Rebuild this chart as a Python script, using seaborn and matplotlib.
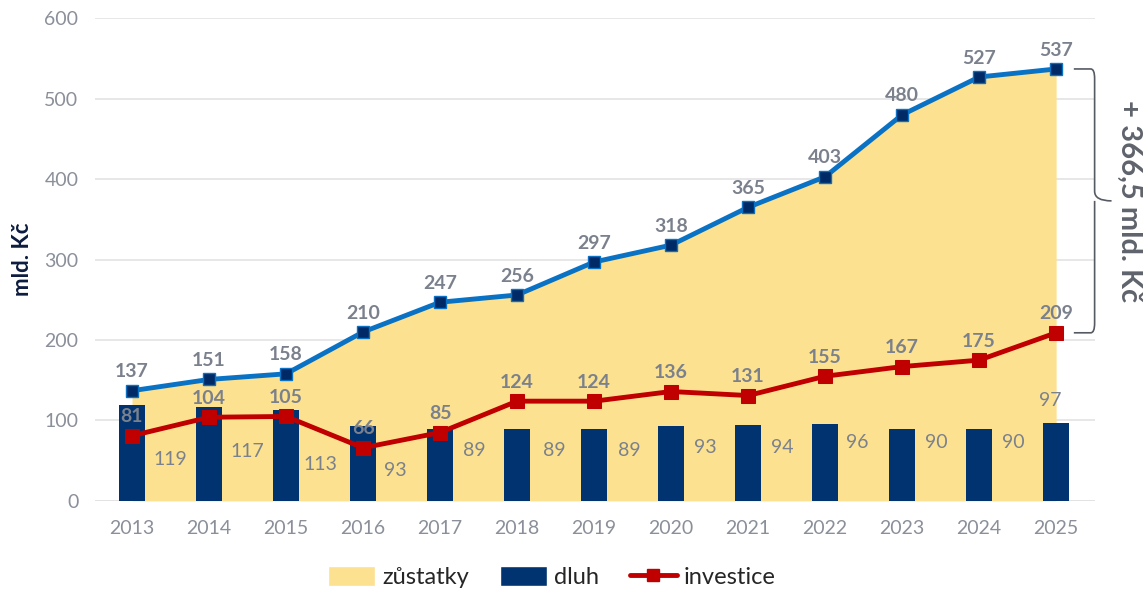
import numpy as np
import pandas as pd
import matplotlib.pyplot as plt
import seaborn as sns
from matplotlib.patches import Patch
from matplotlib.lines import Line2D
from matplotlib.path import Path
from matplotlib.patches import PathPatch

# Data
roky = ['2013', '2014', '2015', '2016', '2017', '2018', '2019',
        '2020', '2021', '2022', '2023', '2024', '2025']
zustatky = [137, 151, 158, 210, 247, 256, 297, 318, 365, 403, 480, 527, 537]
dluh = [119, 117, 113, 93, 89, 89, 89, 93, 94, 96, 90, 90, 97]
investice = [81, 104, 105, 66, 85, 124, 124, 136, 131, 155, 167, 175, 209]

# placement of the debt labels (x shift, y position)
dluh_lbl_dx = [0.5, 0.5, 0.45, 0.42, 0.45, 0.48, 0.46, 0.44, 0.44, 0.42, 0.44, 0.45, -0.08]
dluh_lbl_y = [51, 62, 45, 38, 63, 63, 63, 67, 67, 73, 73, 73, 125]

sns.set_theme(style="white")
plt.rcParams['font.family'] = ['Lato', 'DejaVu Sans']

seda = '#7b818c'
df = pd.DataFrame({'rok': roky, 'x': np.arange(len(roky)),
                   'zustatky': zustatky, 'dluh': dluh, 'investice': investice})

fig = plt.figure(figsize=(11.45, 5.9), dpi=100)
ax = fig.add_axes([0.083, 0.151, 0.873, 0.818])

ax.fill_between(df['x'], df['zustatky'], color='#fce190', lw=0, zorder=1)
sns.barplot(data=df, x='rok', y='dluh', color='#00336f', width=0.34,
            saturation=1, linewidth=0, ax=ax, zorder=2)
sns.lineplot(data=df, x='x', y='investice', color='#c00000', lw=3.5,
             marker='s', markersize=10, markeredgecolor='#c00000', ax=ax, zorder=3)
sns.lineplot(data=df, x='x', y='zustatky', color='#0a72c4', lw=3.5,
             marker='s', markersize=9, markerfacecolor='#002a66',
             markeredgecolor='#0a72c4', markeredgewidth=1, ax=ax, zorder=4)

for i, v in enumerate(zustatky):
    ax.text(i, v + 13, str(v), ha='center', va='bottom', fontsize=14,
            fontweight='bold', color=seda, zorder=5)
for i, v in enumerate(investice):
    ax.text(i, v + 13, str(v), ha='center', va='bottom', fontsize=14,
            fontweight='bold', color=seda, zorder=5)
for i, v in enumerate(dluh):
    ax.text(i + dluh_lbl_dx[i], dluh_lbl_y[i], str(v), ha='center', va='center',
            fontsize=14, color=seda, zorder=5)

ax.set_xlim(-0.48, 12.5)
ax.set_ylim(0, 600)
ax.set_yticks(range(0, 601, 100))
ax.yaxis.grid(True, color='#e3e3e3', lw=1.2)
ax.set_axisbelow(True)
sns.despine(ax=ax, left=True, bottom=True)
ax.axhline(0, color='#d9d9d9', lw=1.2, zorder=0)
ax.tick_params(axis='both', colors='#8a8f99', labelsize=14, length=0)
ax.tick_params(axis='x', pad=14)
ax.tick_params(axis='y', pad=12)
ax.set_xlabel('')
ax.set_ylabel('mld. Kč', fontsize=16, fontweight='bold', color='#0d1b3e', labelpad=8)

# bracket on the right
top, bot = 537, 209
mid = (top + bot) / 2
x0, x1, x2 = 12.23, 12.50, 12.72
verts = [(x0, top), (x1 - 0.05, top), (x1, top), (x1, top - 12),
         (x1, mid + 12), (x1, mid), (x2, mid),
         (x1, mid), (x1, mid - 12),
         (x1, bot + 12), (x1, bot), (x1 - 0.05, bot), (x0, bot)]
codes = [Path.MOVETO, Path.LINETO, Path.CURVE3, Path.CURVE3,
         Path.LINETO, Path.CURVE3, Path.CURVE3,
         Path.MOVETO, Path.CURVE3,
         Path.LINETO, Path.CURVE3, Path.CURVE3, Path.LINETO]
ax.add_patch(PathPatch(Path(verts, codes), fill=False, edgecolor='#555a63',
                       lw=1.2, clip_on=False, zorder=5))
ax.text(12.95, mid, '+ 366,5 mld. Kč', rotation=-90, ha='center', va='center',
        fontsize=21, fontweight='bold', color='#5f636b', clip_on=False)

handles = [Patch(facecolor='#fce190', label='zůstatky'),
           Patch(facecolor='#00336f', label='dluh'),
           Line2D([0], [0], color='#c00000', lw=3.5, marker='s', markersize=9,
                  label='investice')]
fig.legend(handles=handles, loc='lower center', ncol=3, frameon=False,
           fontsize=17, bbox_to_anchor=(0.482, -0.033), handlelength=2.0,
           handleheight=0.9, columnspacing=1.3, handletextpad=0.3)

fig.savefig('out.png', dpi=100)
